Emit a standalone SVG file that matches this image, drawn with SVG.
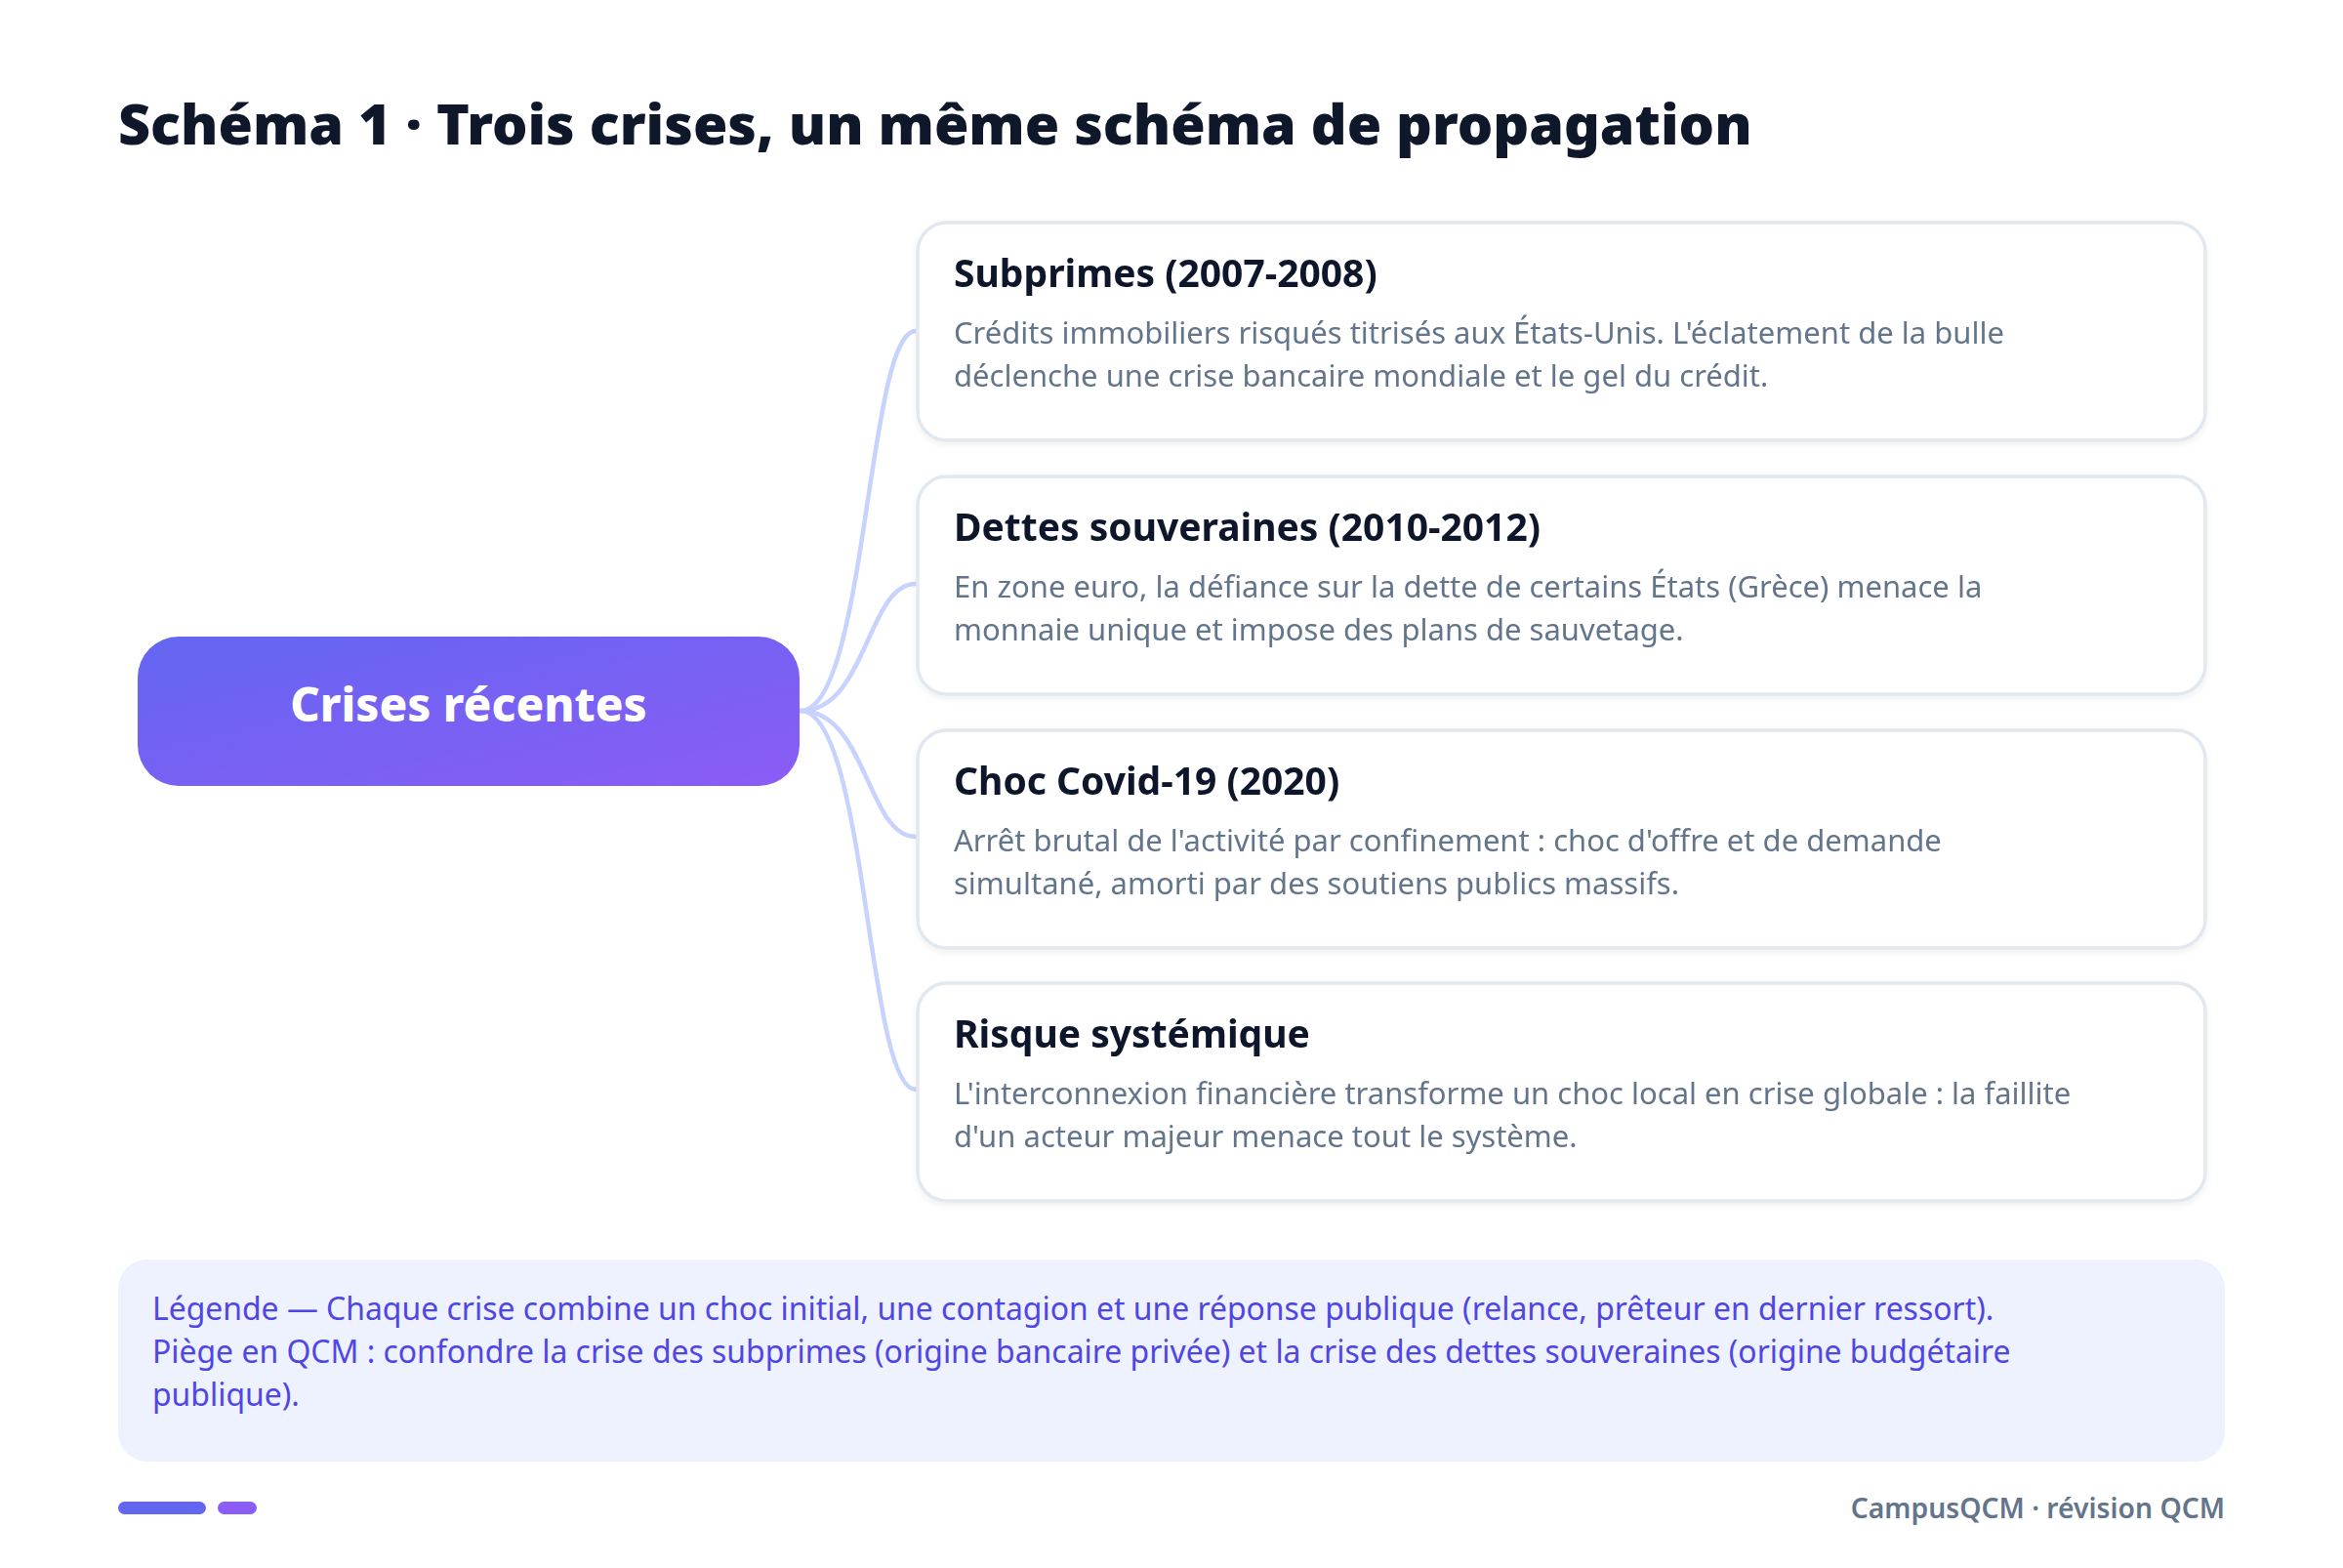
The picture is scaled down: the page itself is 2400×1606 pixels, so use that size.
<svg xmlns="http://www.w3.org/2000/svg" width="2400" height="1606" viewBox="0 0 2400 1606">
<defs>
<linearGradient id="gc" x1="0" y1="0" x2="1" y2="1">
<stop offset="0" stop-color="#6366f1"/>
<stop offset="1" stop-color="#8b5cf6"/>
</linearGradient>
<filter id="sh" x="-5%" y="-10%" width="110%" height="125%">
<feDropShadow dx="0" dy="3" stdDeviation="3" flood-color="#0f172a" flood-opacity="0.06"/>
</filter>
<style>
.t{font-family:"Noto Sans","Open Sans","Liberation Sans",sans-serif}
.title{font-size:57.4px;font-weight:900;fill:#0f172a}
.card{fill:#ffffff;stroke:#e2e8f0;stroke-width:3.5}
.ct{font-size:39px;font-weight:700;fill:#0f172a}
.cb{font-size:31px;font-weight:400;fill:#64748b}
.lg{font-size:31.9px;font-weight:400;fill:#4f46e5}
.ft{font-size:28.3px;font-weight:600;fill:#64748b}
.edge{fill:none;stroke:#c7d2fe;stroke-width:4.5;stroke-linecap:round}
</style>
</defs>
<rect width="2400" height="1606" fill="#ffffff"/>
<text class="t title" x="121" y="148">Schéma 1 · Trois crises, un même schéma de propagation</text>
<g id="connectors">
<path class="edge" d="M820 728 C888 728 888 339 938 339"/>
<path class="edge" d="M820 728 C888 728 888 598 938 598"/>
<path class="edge" d="M820 728 C888 728 888 857 938 857"/>
<path class="edge" d="M820 728 C888 728 888 1116 938 1116"/>
</g>
<g id="center">
<rect x="141" y="652" width="678" height="153" rx="42" fill="url(#gc)"/>
<text class="t" x="480" y="739" text-anchor="middle" font-size="47.5" font-weight="800" fill="#ffffff">Crises récentes</text>
</g>
<g id="card1" filter="url(#sh)">
<rect class="card" x="940" y="228" width="1319" height="223" rx="30"/>
<text class="t ct" x="977" y="294">Subprimes (2007-2008)</text>
<text class="t cb" x="977" y="352">Crédits immobiliers risqués titrisés aux États-Unis. L'éclatement de la bulle</text>
<text class="t cb" x="977" y="396">déclenche une crise bancaire mondiale et le gel du crédit.</text>
</g>
<g id="card2" filter="url(#sh)">
<rect class="card" x="940" y="488" width="1319" height="223" rx="30"/>
<text class="t ct" x="977" y="554">Dettes souveraines (2010-2012)</text>
<text class="t cb" x="977" y="612">En zone euro, la défiance sur la dette de certains États (Grèce) menace la</text>
<text class="t cb" x="977" y="656">monnaie unique et impose des plans de sauvetage.</text>
</g>
<g id="card3" filter="url(#sh)">
<rect class="card" x="940" y="748" width="1319" height="223" rx="30"/>
<text class="t ct" x="977" y="814">Choc Covid-19 (2020)</text>
<text class="t cb" x="977" y="872">Arrêt brutal de l'activité par confinement : choc d'offre et de demande</text>
<text class="t cb" x="977" y="916">simultané, amorti par des soutiens publics massifs.</text>
</g>
<g id="card4" filter="url(#sh)">
<rect class="card" x="940" y="1007" width="1319" height="223" rx="30"/>
<text class="t ct" x="977" y="1073">Risque systémique</text>
<text class="t cb" x="977" y="1131">L'interconnexion financière transforme un choc local en crise globale : la faillite</text>
<text class="t cb" x="977" y="1175">d'un acteur majeur menace tout le système.</text>
</g>
<g id="legend">
<rect x="121" y="1290" width="2158" height="207" rx="30" fill="#eef2ff"/>
<text class="t lg" x="156" y="1352">Légende — Chaque crise combine un choc initial, une contagion et une réponse publique (relance, prêteur en dernier ressort).</text>
<text class="t lg" x="156" y="1396">Piège en QCM : confondre la crise des subprimes (origine bancaire privée) et la crise des dettes souveraines (origine budgétaire</text>
<text class="t lg" x="156" y="1440">publique).</text>
</g>
<g id="footer">
<rect x="121" y="1538" width="90" height="13" rx="6.5" fill="#6366f1"/>
<rect x="223" y="1538" width="40" height="13" rx="6.5" fill="#8b5cf6"/>
<text class="t ft" x="2279" y="1555" text-anchor="end">CampusQCM · révision QCM</text>
</g>
</svg>
